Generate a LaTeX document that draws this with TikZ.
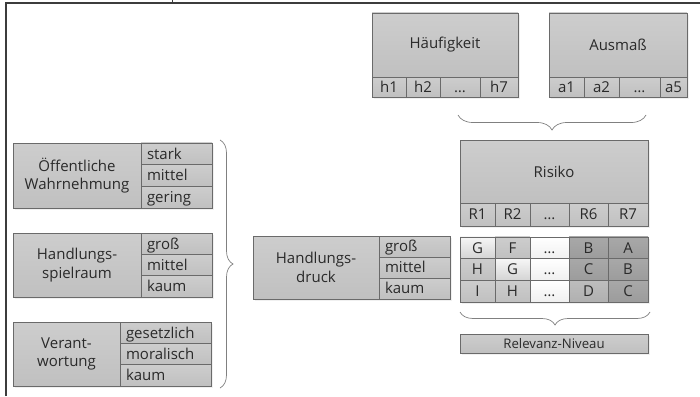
\documentclass[tikz,border=0pt]{standalone}
\usepackage{fontspec}
\setmainfont{Open Sans}
\usetikzlibrary{decorations.pathreplacing,shadows}
\definecolor{txt}{HTML}{2A2A2A}
\definecolor{bordc}{HTML}{6A6A6A}
\definecolor{fillT}{HTML}{CDCDCD}
\definecolor{fillB}{HTML}{C0C0C0}
\definecolor{darkT}{HTML}{A8A8A8}
\definecolor{darkB}{HTML}{9C9C9C}
\definecolor{dT}{HTML}{BDBDBD}
\definecolor{dB}{HTML}{B0B0B0}
\definecolor{lightT}{HTML}{F6F6F6}
\definecolor{lightB}{HTML}{D4D4D4}
\definecolor{braceC}{HTML}{808080}
\definecolor{frameC}{HTML}{3C3C3C}
\definecolor{shadowC}{HTML}{E2E2E2}
\begin{document}
\begin{tikzpicture}[x=1pt,y=-1pt,
 cellb/.style={rectangle, draw=bordc, line width=0.7pt, inner sep=0pt, outer sep=0pt, text=txt,
   font=\fontsize{15}{18.5}\selectfont, top color=fillT, bottom color=fillB,
   drop shadow={shadow xshift=1.6pt, shadow yshift=-1.6pt, fill=shadowC}},
 ccell/.style={cellb, text height=10.7pt, text depth=0pt},
 lcell/.style={cellb, text height=10.7pt, text depth=0pt, align=left, inner xsep=6pt},
 lab/.style={cellb, align=center},
 dk/.style={top color=darkT, bottom color=darkB},
 md/.style={top color=dT, bottom color=dB},
 lt/.style={top color=lightT, bottom color=lightB},
 wh/.style={top color=white, bottom color=white!94!black},
 bracec/.style={draw=braceC, line width=0.7pt, decorate, decoration={brace, amplitude=#1}},
]
\useasboundingbox (0,0) rectangle (700,396);
% frame
\coordinate (fTL) at (6,3); \coordinate (fTR) at (700,3); \coordinate (fBL) at (6,396);
\coordinate (tk) at (172,0); \coordinate (tkb) at (172,3);
\draw[frameC, line width=1.3pt] (fBL) -- (fTL) -- (fTR);
\draw[frameC, line width=1pt] (tk) -- (tkb);

% Haeufigkeit
\node[lab, minimum width=146pt, minimum height=64pt] (hk) at (445,45) {Häufigkeit};
\node[ccell, minimum width=34pt, minimum height=20pt] (h1) at (389,87) {h1};
\node[ccell, minimum width=34pt, minimum height=20pt] (h2) at (423,87) {h2};
\node[ccell, minimum width=40pt, minimum height=20pt] (hdt) at (460,87) {…};
\node[ccell, minimum width=38pt, minimum height=20pt] (h7) at (499,87) {h7};

% Ausmass
\node[lab, minimum width=138pt, minimum height=64pt] (am) at (618,45) {Ausmaß};
\node[ccell, minimum width=35pt, minimum height=20pt] (a1) at (566.5,87) {a1};
\node[ccell, minimum width=35pt, minimum height=20pt] (a2) at (601.5,87) {a2};
\node[ccell, minimum width=41pt, minimum height=20pt] (adt) at (639.5,87) {…};
\node[ccell, minimum width=27pt, minimum height=20pt] (a5) at (673.5,87) {a5};

% Risiko
\node[lab, minimum width=188pt, minimum height=63pt] (rk) at (554,171.5) {Risiko};
\node[ccell, minimum width=35pt, minimum height=23pt] (r1) at (477.5,214.5) {R1};
\node[ccell, minimum width=35pt, minimum height=23pt] (r2) at (512.5,214.5) {R2};
\node[ccell, minimum width=39pt, minimum height=23pt] (rdt) at (549.5,214.5) {…};
\node[ccell, minimum width=39pt, minimum height=23pt] (r6) at (588.5,214.5) {R6};
\node[ccell, minimum width=40pt, minimum height=23pt] (r7) at (628,214.5) {R7};

% grid
\tikzset{g1/.style={ccell, minimum width=35pt, minimum height=21.7pt},
         g3/.style={ccell, minimum width=39pt, minimum height=21.7pt},
         g5/.style={ccell, minimum width=40pt, minimum height=21.7pt}}
\node[g1, lt] (g11) at (477.5,247.8) {G};
\node[g1] (g12) at (512.5,247.8) {F};
\node[g3, wh] (g13) at (549.5,247.8) {…};
\node[g3, dk] (g14) at (588.5,247.8) {B};
\node[g5, dk] (g15) at (628,247.8) {A};
\node[g1] (g21) at (477.5,269.5) {H};
\node[g1, lt] (g22) at (512.5,269.5) {G};
\node[g3, wh] (g23) at (549.5,269.5) {…};
\node[g3, dk] (g24) at (588.5,269.5) {C};
\node[g5, dk] (g25) at (628,269.5) {B};
\node[g1] (g31) at (477.5,291.2) {I};
\node[g1] (g32) at (512.5,291.2) {H};
\node[g3, wh] (g33) at (549.5,291.2) {…};
\node[g3, md] (g34) at (588.5,291.2) {D};
\node[g5, dk] (g35) at (628,291.2) {C};

% Relevanz
\node[ccell, font=\fontsize{13.2}{16}\selectfont, text height=9.4pt, minimum width=188pt, minimum height=19pt] (rn) at (554,343.5) {Relevanz-Niveau};

% Handlungsdruck
\node[lab, minimum width=126pt, minimum height=63pt] (hdr) at (316,267.5) {Handlungs-\\druck};
\node[lcell, text width=59pt, minimum height=21pt] (hdr1) at (414.5,246.5) {groß};
\node[lcell, text width=59pt, minimum height=21pt] (hdr2) at (414.5,267.5) {mittel};
\node[lcell, text width=59pt, minimum height=21pt] (hdr3) at (414.5,288.5) {kaum};

% Oeffentliche Wahrnehmung
\node[lab, minimum width=128pt, minimum height=65pt] (ow) at (77,175.5) {Öffentliche\\Wahrnehmung};
\node[lcell, text width=59pt, minimum height=21.67pt] (ow1) at (176.5,153.8) {stark};
\node[lcell, text width=59pt, minimum height=21.67pt] (ow2) at (176.5,175.5) {mittel};
\node[lcell, text width=59pt, minimum height=21.67pt] (ow3) at (176.5,197.2) {gering};

% Handlungsspielraum
\node[lab, minimum width=128pt, minimum height=64pt] (hs) at (77,265) {Handlungs-\\spielraum};
\node[lcell, text width=59pt, minimum height=21.33pt] (hs1) at (176.5,243.7) {groß};
\node[lcell, text width=59pt, minimum height=21.33pt] (hs2) at (176.5,265) {mittel};
\node[lcell, text width=59pt, minimum height=21.33pt] (hs3) at (176.5,286.3) {kaum};

% Verantwortung
\node[lab, minimum width=107pt, minimum height=64pt] (vw) at (66.5,354) {Verant-\\wortung};
\node[lcell, text width=79pt, minimum height=21.33pt] (vw1) at (165.5,332.7) {gesetzlich};
\node[lcell, text width=79pt, minimum height=21.33pt] (vw2) at (165.5,354) {moralisch};
\node[lcell, text width=79pt, minimum height=21.33pt] (vw3) at (165.5,375.3) {kaum};

% braces
\coordinate (b1s) at (646,115); \coordinate (b1e) at (458,115);
\draw[bracec=15pt] (b1s) -- (b1e);
\coordinate (b2s) at (650,312); \coordinate (b2e) at (460,312);
\draw[bracec=13pt] (b2s) -- (b2e);
\coordinate (b3s) at (220,140); \coordinate (b3e) at (220,388);
\draw[bracec=13pt] (b3s) -- (b3e);
\end{tikzpicture}
\end{document}
